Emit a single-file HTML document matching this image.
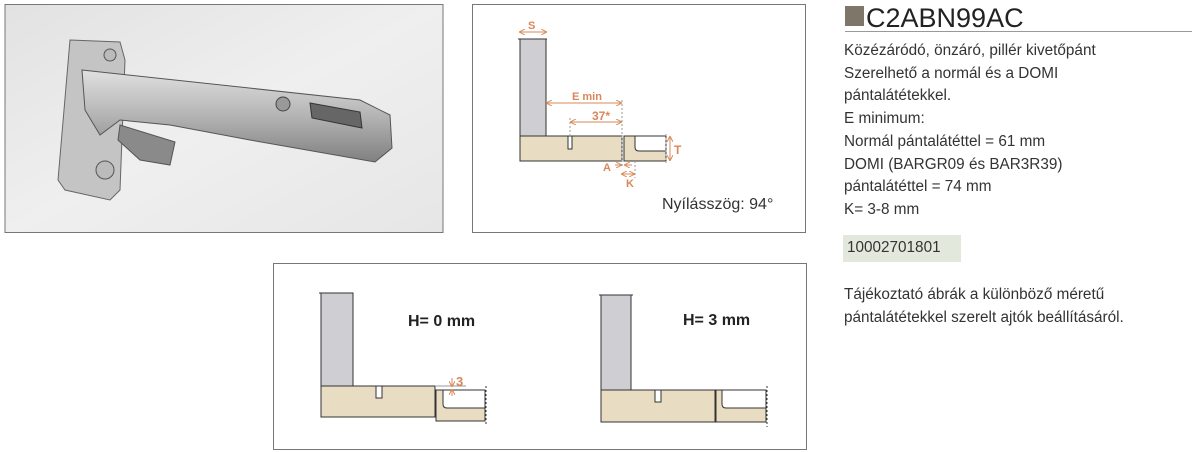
<!DOCTYPE html>
<html><head><meta charset="utf-8"><style>
body{margin:0;width:1200px;height:452px;background:#fff;overflow:hidden;position:relative;font-family:"Liberation Sans",sans-serif}
.t{position:absolute;left:844px;font-size:15.3px;color:#333;line-height:22.7px;white-space:nowrap}
</style></head><body>
<svg width="1200" height="452" style="position:absolute;left:0;top:0" xmlns="http://www.w3.org/2000/svg">
<defs>
<linearGradient id="bg" x1="0" y1="0" x2="1" y2="1"><stop offset="0" stop-color="#e2e2e2"/><stop offset="0.5" stop-color="#efefef"/><stop offset="1" stop-color="#e6e6e6"/></linearGradient>
<linearGradient id="met" x1="0" y1="0" x2="0" y2="1"><stop offset="0" stop-color="#e0e0e0"/><stop offset="0.5" stop-color="#b4b4b4"/><stop offset="1" stop-color="#808080"/></linearGradient>
<marker id="a" markerWidth="6" markerHeight="6" refX="5" refY="3" orient="auto"><path d="M0,0 L6,3 L0,6" fill="none" stroke="#d98a5a" stroke-width="1"/></marker>
<marker id="b" markerWidth="6" markerHeight="6" refX="1" refY="3" orient="auto"><path d="M6,0 L0,3 L6,6" fill="none" stroke="#d98a5a" stroke-width="1"/></marker>
</defs>
<rect x="5" y="4.5" width="438" height="228" fill="url(#bg)" stroke="#777" stroke-width="1"/>
<path d="M70,40 L120,42 L125,60 L120,190 L110,200 L65,190 L58,180 Z" fill="#c4c4c4" stroke="#666"/>
<path d="M82,70 L360,100 L390,115 L392,148 L375,162 L250,140 L170,125 L120,120 L100,135 L85,110 Z" fill="url(#met)" stroke="#555"/>
<path d="M120,125 L175,142 L170,165 L140,160 L118,140Z" fill="#8a8a8a" stroke="#555"/>
<circle cx="105" cy="170" r="9" fill="#bbb" stroke="#555"/><circle cx="110" cy="55" r="6" fill="#bbb" stroke="#555"/>
<circle cx="283" cy="104" r="7" fill="#999" stroke="#444"/>
<path d="M310,103 L360,112 L362,128 L312,118Z" fill="#666" stroke="#333"/>
<rect x="472.5" y="4.5" width="333" height="228" fill="#fff" stroke="#777"/>
<g stroke="#333" stroke-width="1">
<rect x="520" y="39" width="26" height="97" fill="#cfcfd3"/>
<rect x="520" y="136" width="102" height="25" fill="#e8dcc3"/>
<rect x="568" y="136" width="4" height="13" fill="#fff"/>
<rect x="624" y="136" width="42" height="25" fill="#e8dcc3"/>
<path d="M635,136 L635,147 Q635,151 639,151 L666,151 L666,136Z" fill="#fff"/>
</g>
<line x1="518" y1="39" x2="548" y2="39" stroke="#333" stroke-dasharray="2,1"/>
<g stroke="#999" stroke-dasharray="2,2"><line x1="622" y1="100" x2="622" y2="168"/><line x1="666" y1="134" x2="666" y2="163"/><line x1="570" y1="118" x2="570" y2="136"/><line x1="635" y1="161" x2="635" y2="178"/></g>
<g stroke="#d98a5a" stroke-width="1">
<line x1="520" y1="32" x2="546" y2="32" marker-start="url(#b)" marker-end="url(#a)"/>
<line x1="547" y1="103" x2="621" y2="103" marker-start="url(#b)" marker-end="url(#a)"/>
<line x1="571" y1="122" x2="621" y2="122" marker-start="url(#b)" marker-end="url(#a)"/>
<line x1="670" y1="137" x2="670" y2="160" marker-start="url(#b)" marker-end="url(#a)"/>
<line x1="615" y1="165" x2="621" y2="165" marker-end="url(#a)"/><line x1="632" y1="165" x2="625" y2="165" marker-end="url(#a)"/>
<line x1="622" y1="174" x2="634" y2="174" marker-start="url(#b)" marker-end="url(#a)"/>
</g>
<g fill="#d9865a" font-weight="bold" font-size="11" font-family="Liberation Sans,sans-serif">
<text x="528" y="29">S</text><text x="572" y="100">E min</text><text x="592" y="120" font-size="12">37*</text>
<text x="674" y="154" font-size="12">T</text><text x="603" y="171">A</text><text x="626" y="187">K</text>
</g>
<text x="662" y="209" font-size="16" fill="#333" font-family="Liberation Sans,sans-serif">Nyílásszög: 94°</text>
<rect x="273.5" y="263.5" width="533" height="186" fill="#fff" stroke="#777"/>
<g stroke="#333" stroke-width="1">
<rect x="321" y="293" width="32" height="93" fill="#cfcfd3"/>
<rect x="321" y="386" width="114" height="31" fill="#e8dcc3"/>
<rect x="376" y="386" width="6" height="12" fill="#fff"/>
<rect x="436" y="390" width="49" height="31" fill="#e8dcc3"/>
<path d="M443,390 L443,404 Q443,408 447,408 L485,408 L485,390Z" fill="#fff"/>
<rect x="601" y="295" width="30" height="95" fill="#cfcfd3"/>
<rect x="601" y="390" width="114" height="32" fill="#e8dcc3"/>
<rect x="655" y="390" width="6" height="12" fill="#fff"/>
<rect x="716" y="390" width="50" height="32" fill="#e8dcc3"/>
<path d="M722,390 L722,404 Q722,408 726,408 L766,408 L766,390Z" fill="#fff"/>
</g>
<g stroke="#333" stroke-dasharray="2,2"><line x1="319" y1="293" x2="355" y2="293"/><line x1="599" y1="295" x2="633" y2="295"/><line x1="486" y1="386" x2="486" y2="426"/><line x1="767" y1="386" x2="767" y2="427"/></g>
<line x1="436" y1="386" x2="466" y2="386" stroke="#999"/>
<g stroke="#d98a5a"><line x1="452" y1="378" x2="452" y2="386" marker-end="url(#a)"/><line x1="452" y1="396" x2="452" y2="390" marker-end="url(#a)"/></g>
<text x="456" y="386" fill="#d9865a" font-weight="bold" font-size="13" font-family="Liberation Sans,sans-serif">3</text>
<g font-weight="bold" font-size="16" fill="#222" font-family="Liberation Sans,sans-serif"><text x="408" y="326">H= 0 mm</text><text x="683" y="325">H= 3 mm</text></g>
<rect x="845" y="6" width="19" height="20" fill="#7f766a"/>
<text x="866" y="27" font-size="27" fill="#222" font-family="Liberation Sans,sans-serif">C2ABN99AC</text>
<line x1="845" y1="31.5" x2="1192" y2="31.5" stroke="#999"/>
<rect x="843" y="235" width="118" height="27" fill="#e3e8dc"/>
</svg>
<div class="t" style="top:40px">Közézáródó, önzáró, pillér kivetőpánt<br>Szerelhető a normál és a DOMI<br>pántalátétekkel.<br>E minimum:<br>Normál pántalátéttel = 61 mm<br>DOMI (BARGR09 és BAR3R39)<br>pántalátéttel = 74 mm<br>K= 3-8 mm</div>
<div class="t" style="top:237px;left:847px">10002701801</div>
<div class="t" style="top:284px">Tájékoztató ábrák a különböző méretű<br>pántalátétekkel szerelt ajtók beállításáról.</div>
</body></html>
